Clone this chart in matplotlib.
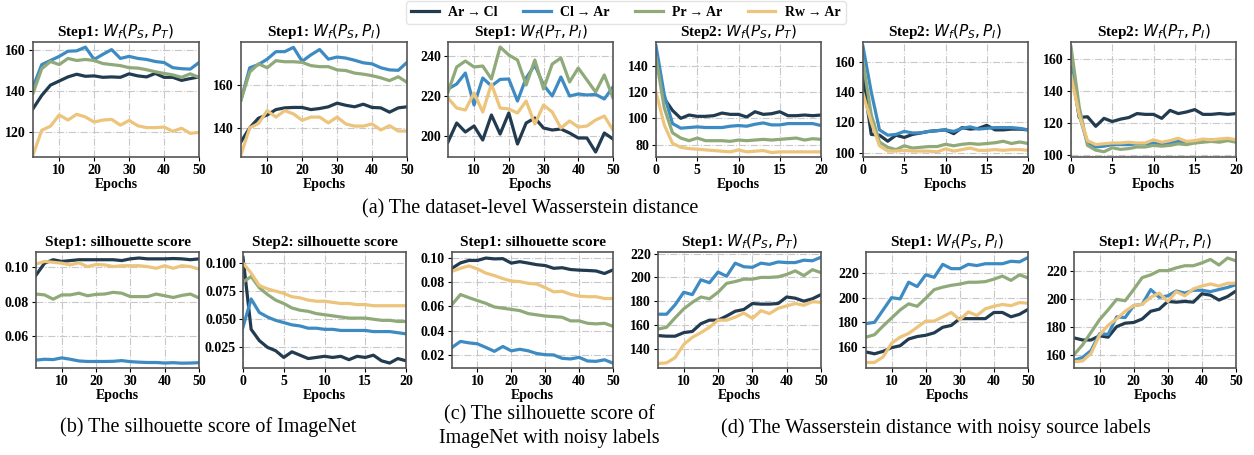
import numpy as np
import matplotlib.pyplot as plt

plt.rcParams['font.family'] = ['Liberation Serif', 'DejaVu Sans']
plt.rcParams['mathtext.fontset'] = 'dejavusans'

labels = ['Ar\u2009→\u2009Cl', 'Cl\u2009→\u2009Ar', 'Pr\u2009→\u2009Ar', 'Rw\u2009→\u2009Ar']
colors = ['#223b4f', '#3d8bc2', '#8faa78', '#ecc47c']

epochs50 = [2.5, 5, 7.5, 10, 12.5, 15, 17.5, 20, 22.5, 25, 27.5, 30, 32.5, 35,
            37.5, 40, 42.5, 45, 47.5, 50]
epochs20 = list(range(21))

# (a) dataset-level Wasserstein distance
s1_st = [
    [131.5, 138, 143, 145, 147, 148.3, 147.3, 147.5, 146.8, 147, 146.8, 148.5, 147.5, 147, 148.7, 146.8, 146.8, 145.3, 146.2, 147],
    [142, 153, 155, 157, 159.5, 159.7, 161.5, 155.5, 158, 160.3, 156, 157, 156, 155.5, 154.5, 154, 151.5, 151, 150.8, 154],
    [139, 151, 154.5, 153, 156, 155, 155.5, 155, 153.5, 153, 152.5, 151.5, 151.3, 150.5, 149.5, 148.7, 148, 146.8, 148.5, 146.8],
    [109, 121, 123, 128.5, 126, 128.8, 127.5, 125, 126, 126.3, 123.5, 125.8, 123.2, 122.3, 122.3, 122.6, 120.5, 122, 119.5, 120],
]
s1_si = [
    [133.5, 140, 144.5, 146, 148.5, 149.3, 149.5, 149.5, 148.5, 149, 149.8, 151.5, 150.5, 149.8, 151, 149.5, 149.3, 147.3, 149.3, 149.8],
    [153, 168, 169.5, 172, 175.5, 175.5, 177.5, 171, 174, 176.5, 172, 173, 172.5, 171.5, 170.3, 169.8, 168, 167, 166.8, 170.5],
    [153, 166, 169.8, 168, 171.3, 170.8, 170.8, 170.5, 169, 168.5, 168.5, 167, 166.7, 165.5, 165, 164.3, 163.3, 162, 163.8, 161.2],
    [127.5, 140, 142, 148, 145, 148, 146.5, 143.5, 145, 145, 142.3, 145, 141.8, 140.8, 140.8, 141.8, 139, 141, 138.5, 138.5],
]
s1_ti = [
    [197, 206.5, 202, 205, 198, 210.5, 201, 211.5, 196, 206.5, 209, 204, 203, 203.5, 201.5, 199, 199, 192, 201.5, 198.5],
    [223.5, 226, 231.5, 215.5, 229, 225, 228.3, 228.5, 217.5, 229, 235.5, 225.5, 220, 229.5, 220, 221, 220.5, 220.8, 218.5, 224.5],
    [222, 234.5, 237.5, 234.5, 235, 228.5, 244.5, 240.5, 238, 225.5, 238, 223.5, 236, 239, 227, 234, 228, 222, 230.5, 219],
    [219, 214, 213, 221.5, 212, 226, 214, 213.5, 211.5, 217.5, 206, 215.5, 212, 204, 207.5, 204.5, 205, 208, 210, 203],
]
s2_st = [
    [150, 115, 106, 100, 102.5, 101.5, 101.5, 102, 104, 103, 103, 101, 105, 103, 103.5, 105, 102, 102, 102.5, 102, 102.5],
    [155, 118, 96, 92.5, 93, 93.5, 93, 93, 93, 94, 94.5, 94, 95.5, 96.5, 95, 95, 96, 96, 96, 96, 94.5],
    [146, 108, 89, 85, 83, 85, 83, 83, 83, 82.5, 83.5, 83, 83.5, 84, 83.5, 84, 84.5, 85, 83.5, 84.5, 84],
    [120, 95, 81, 78, 77, 76.5, 76, 75.5, 75, 74.5, 76, 74.5, 75, 75.5, 74, 74.5, 74.5, 74.5, 74.5, 74.5, 74.5],
]
s2_si = [
    [150, 112, 111.5, 107.5, 111.5, 110, 112, 113, 114, 114.5, 115, 112.5, 116.5, 115.5, 116, 118, 115, 115, 115.5, 115.5, 115],
    [170, 140, 115, 111.5, 112, 114, 113, 113, 114, 114.5, 115, 114, 116, 117, 115.5, 116, 116.5, 116.5, 116.5, 116, 115],
    [160, 125, 107, 103.5, 102, 104.5, 103, 103.5, 104, 104, 105.5, 104.5, 105.5, 106, 105.5, 106, 106.5, 107.5, 106, 107, 106],
    [139, 120, 104.5, 101, 101, 101.5, 101, 101, 101, 100.5, 102.5, 101, 102, 103, 101.5, 101.5, 102, 101.5, 102, 102, 101.5],
]
s2_ti = [
    [155, 123.5, 124, 118, 123, 121, 122.5, 123.5, 126, 125.5, 125.5, 123, 128, 126, 127, 128.5, 125.5, 125.5, 126, 125.5, 126],
    [155, 125, 107.5, 105, 105.5, 106.5, 106.5, 106.5, 107, 107, 107.5, 106.5, 107.5, 108.5, 108, 108.5, 109, 109.5, 109.5, 109.5, 109.5],
    [168, 130, 106, 103, 102, 104.5, 103.5, 104, 105, 105, 106, 105.5, 106, 107, 106.5, 107.5, 108, 108.5, 108, 109, 108],
    [150, 125, 109, 106.5, 107, 107.5, 107.5, 108, 107.5, 107.5, 109.5, 108, 109, 110.5, 108.5, 109, 110, 109.5, 110, 110.5, 109.5],
]

# (b) silhouette score of ImageNet
sil1 = [
    [0.0955, 0.1025, 0.1045, 0.1035, 0.104, 0.1045, 0.1045, 0.1045, 0.1045, 0.1045, 0.104, 0.105, 0.1055, 0.105, 0.105, 0.105, 0.1052, 0.105, 0.1045, 0.105],
    [0.046, 0.0465, 0.0463, 0.0473, 0.0465, 0.0455, 0.0452, 0.0452, 0.0452, 0.0453, 0.0457, 0.0451, 0.0448, 0.0446, 0.0446, 0.0443, 0.0445, 0.0442, 0.0443, 0.0445],
    [0.0845, 0.084, 0.0815, 0.084, 0.084, 0.085, 0.0835, 0.0843, 0.0845, 0.0855, 0.085, 0.083, 0.083, 0.083, 0.0845, 0.0835, 0.0825, 0.0837, 0.0845, 0.0822],
    [0.102, 0.1035, 0.103, 0.1025, 0.1015, 0.1027, 0.1005, 0.1017, 0.1015, 0.1005, 0.101, 0.101, 0.101, 0.1005, 0.0995, 0.101, 0.0995, 0.101, 0.1005, 0.099],
]
sil2 = [
    [0.105, 0.041, 0.031, 0.025, 0.022, 0.016, 0.021, 0.018, 0.015, 0.016, 0.017, 0.016, 0.017, 0.014, 0.017, 0.016, 0.018, 0.013, 0.011, 0.015, 0.013],
    [0.043, 0.068, 0.056, 0.052, 0.049, 0.047, 0.045, 0.044, 0.042, 0.042, 0.041, 0.041, 0.040, 0.040, 0.040, 0.040, 0.039, 0.039, 0.039, 0.038, 0.037],
    [0.083, 0.088, 0.078, 0.072, 0.067, 0.064, 0.060, 0.058, 0.057, 0.055, 0.054, 0.053, 0.052, 0.051, 0.051, 0.051, 0.050, 0.049, 0.049, 0.048, 0.048],
    [0.100, 0.091, 0.080, 0.077, 0.075, 0.073, 0.070, 0.069, 0.067, 0.066, 0.066, 0.065, 0.064, 0.064, 0.063, 0.063, 0.062, 0.062, 0.062, 0.062, 0.062],
]

# (c) silhouette score with noisy labels
sil_noisy = [
    [0.0915, 0.096, 0.098, 0.098, 0.1, 0.0993, 0.0995, 0.0958, 0.097, 0.0958, 0.0945, 0.0938, 0.0915, 0.092, 0.0905, 0.09, 0.0897, 0.0893, 0.0872, 0.0902],
    [0.026, 0.031, 0.0298, 0.029, 0.026, 0.0228, 0.0268, 0.0232, 0.0245, 0.0232, 0.021, 0.02, 0.0198, 0.017, 0.0165, 0.0178, 0.0148, 0.0145, 0.0158, 0.013],
    [0.0615, 0.0698, 0.0672, 0.0648, 0.0625, 0.0595, 0.0585, 0.0575, 0.0565, 0.054, 0.053, 0.052, 0.0515, 0.051, 0.048, 0.048, 0.046, 0.0455, 0.046, 0.0435],
    [0.089, 0.0915, 0.0935, 0.091, 0.0875, 0.0855, 0.083, 0.081, 0.0805, 0.079, 0.0785, 0.0755, 0.072, 0.0725, 0.07, 0.0685, 0.068, 0.068, 0.0665, 0.0665],
]

# (d) Wasserstein distance with noisy source labels
n_st = [
    [151, 150.5, 150.5, 153.5, 154.5, 161, 164, 164, 167.5, 171.5, 173, 178, 177.5, 177.5, 178, 183.5, 182.5, 180, 182, 185.5],
    [169, 169, 177, 187.5, 185.5, 198, 195.5, 204.5, 201, 212, 209, 208.5, 212, 211, 213, 212.5, 212.5, 214.5, 214, 217],
    [156.5, 158, 166, 173.5, 179, 183.5, 182, 187.5, 195, 196.5, 198.5, 198.5, 200, 200, 200.5, 202.5, 205.5, 201.5, 206.5, 204],
    [127.5, 128, 132.5, 143.5, 149.5, 153.5, 158, 164, 164, 166.5, 170, 165.5, 172, 169.5, 174, 176, 178, 176.5, 179.5, 179],
]
n_si = [
    [156, 154.5, 156.5, 159.5, 161, 166.5, 168.5, 169.5, 171.5, 176, 177.5, 183, 183, 183, 183, 188, 188, 184.5, 186.5, 190.5],
    [179, 180, 190, 200, 199, 212.5, 209, 218.5, 216.5, 227, 223.5, 223.5, 227, 226, 227.5, 227.5, 227.5, 229.5, 229, 232.5],
    [168, 170, 177, 183.5, 190, 195, 193, 199.5, 206.5, 208.5, 210, 211, 212.5, 212.5, 213, 215, 217.5, 214, 218.5, 216],
    [147.5, 147.5, 152, 163, 168, 171, 176, 181, 181, 184.5, 188, 182, 188.5, 185.5, 191, 193, 194.5, 193.5, 196, 195.5],
]
n_ti = [
    [172, 170.5, 170.5, 173.5, 172.5, 180, 182.5, 183, 185.5, 191, 192.5, 198, 197.5, 198, 197.5, 203.5, 202.5, 199, 201.5, 205.5],
    [156, 158, 163, 175, 174.5, 187, 186.5, 195, 196, 206.5, 201, 202, 205.5, 204, 206, 206, 205, 206.5, 208, 210],
    [160, 167, 176, 185, 192, 199.5, 198.5, 206.5, 215, 217, 220, 220, 222, 223.5, 223.5, 225.5, 228, 224, 229, 227],
    [155, 155.5, 161, 174, 181, 185.5, 191, 195, 196, 201, 204, 198, 205, 202, 207, 209, 210.5, 209, 211, 211],
]

W, H = 1254, 455


def make_axes(fig, left, right, top, bottom):
    """
    Add an axes given its box in pixels from the top-left corner.
    """
    return fig.add_axes([left / W, 1 - bottom / H, (right - left) / W, (bottom - top) / H])


def draw_panel(ax, x, series, title, ylim, yticks, xticks, xlim, yfmt=None):
    """
    Draw the four transfer tasks on one axes.
    """
    for values, color, label in zip(series, colors, labels):
        ax.plot(x, values, color=color, lw=2.3, label=label)
    ax.set_xlim(xlim)
    ax.set_ylim(ylim)
    ax.set_xticks(xticks)
    ax.set_yticks(yticks)
    if yfmt:
        ax.set_yticklabels([yfmt.format(v) for v in yticks])
    ax.set_title(title, fontsize=11, fontweight='bold', pad=4)
    ax.set_xlabel('Epochs', fontsize=10, fontweight='bold', labelpad=1)
    ax.grid(True, linestyle='-.', color='#c8c8c8', lw=0.8)
    ax.tick_params(labelsize=10, pad=2, length=3)
    for lab in ax.get_xticklabels() + ax.get_yticklabels():
        lab.set_fontweight('bold')
    for sp in ax.spines.values():
        sp.set_color('#555555')
        sp.set_linewidth(1.2)


fig = plt.figure(figsize=(W / 100, H / 100), dpi=100)

x50 = (2.5, 50)
t50 = [10, 20, 30, 40, 50]
t20 = [0, 5, 10, 15, 20]

top_boxes = [(33, 199), (241, 407), (448, 613), (656, 821), (863, 1028), (1071, 1236)]
bot_boxes = [(36, 199), (243, 406), (452, 613), (658, 821), (866, 1028), (1074, 1236)]

axes_top = [make_axes(fig, l, r, 42, 157) for l, r in top_boxes]
axes_bot = [make_axes(fig, l, r, 252, 368) for l, r in bot_boxes]

draw_panel(axes_top[0], epochs50, s1_st, 'Step1: $W_f(P_S, P_T)$', (108, 164), [120, 140, 160], t50, x50)
draw_panel(axes_top[1], epochs50, s1_si, 'Step1: $W_f(P_S, P_I)$', (126.4, 180), [140, 160], t50, x50)
draw_panel(axes_top[2], epochs50, s1_ti, 'Step1: $W_f(P_T, P_I)$', (189.5, 247), [200, 220, 240], t50, x50)
draw_panel(axes_top[3], epochs20, s2_st, 'Step2: $W_f(P_S, P_T)$', (70.6, 158), [80, 100, 120, 140], t20, (0, 20))
draw_panel(axes_top[4], epochs20, s2_si, 'Step2: $W_f(P_S, P_I)$', (97.1, 173), [100, 120, 140, 160], t20, (0, 20))
draw_panel(axes_top[5], epochs20, s2_ti, 'Step2: $W_f(P_T, P_I)$', (98.7, 171), [100, 120, 140, 160], t20, (0, 20))

draw_panel(axes_bot[0], epochs50, sil1, 'Step1: silhouette score', (0.0414, 0.109), [0.06, 0.08, 0.10], t50, x50, '{:.2f}')
draw_panel(axes_bot[1], epochs20, sil2, 'Step2: silhouette score', (0.0066, 0.1098), [0.025, 0.05, 0.075, 0.1], t20, (0, 20), '{:.3f}')
draw_panel(axes_bot[2], epochs50, sil_noisy, 'Step1: silhouette score', (0.009, 0.105), [0.02, 0.04, 0.06, 0.08, 0.10], t50, x50, '{:.2f}')
draw_panel(axes_bot[3], epochs50, n_st, 'Step1: $W_f(P_S, P_T)$', (123.7, 221.4), [140, 160, 180, 200, 220], t50, x50)
draw_panel(axes_bot[4], epochs50, n_si, 'Step1: $W_f(P_S, P_I)$', (143, 237), [160, 180, 200, 220], t50, x50)
draw_panel(axes_bot[5], epochs50, n_ti, 'Step1: $W_f(P_T, P_I)$', (150.5, 233.3), [160, 180, 200, 220], t50, x50)

handles, _ = axes_top[0].get_legend_handles_labels()
fig.legend(handles, labels, loc='upper center', bbox_to_anchor=(0.499, 1.012), ncol=4,
           prop={'weight': 'bold', 'size': 10}, columnspacing=1.8, handlelength=2.0,
           handletextpad=0.7, borderpad=0.35, frameon=True, fancybox=True,
           edgecolor='#dddddd')

cap = dict(ha='center', va='center', fontsize=14.5)
fig.text(530 / W, 1 - 209 / H, '(a) The dataset-level Wasserstein distance', **cap)
fig.text(208 / W, 1 - 427 / H, '(b) The silhouette score of ImageNet', **cap)
fig.text(549 / W, 1 - 415 / H, '(c) The silhouette score of', **cap)
fig.text(549 / W, 1 - 438 / H, 'ImageNet with noisy labels', **cap)
fig.text(936 / W, 1 - 428 / H, '(d) The Wasserstein distance with noisy source labels', **cap)

fig.savefig('out.png', dpi=100)
